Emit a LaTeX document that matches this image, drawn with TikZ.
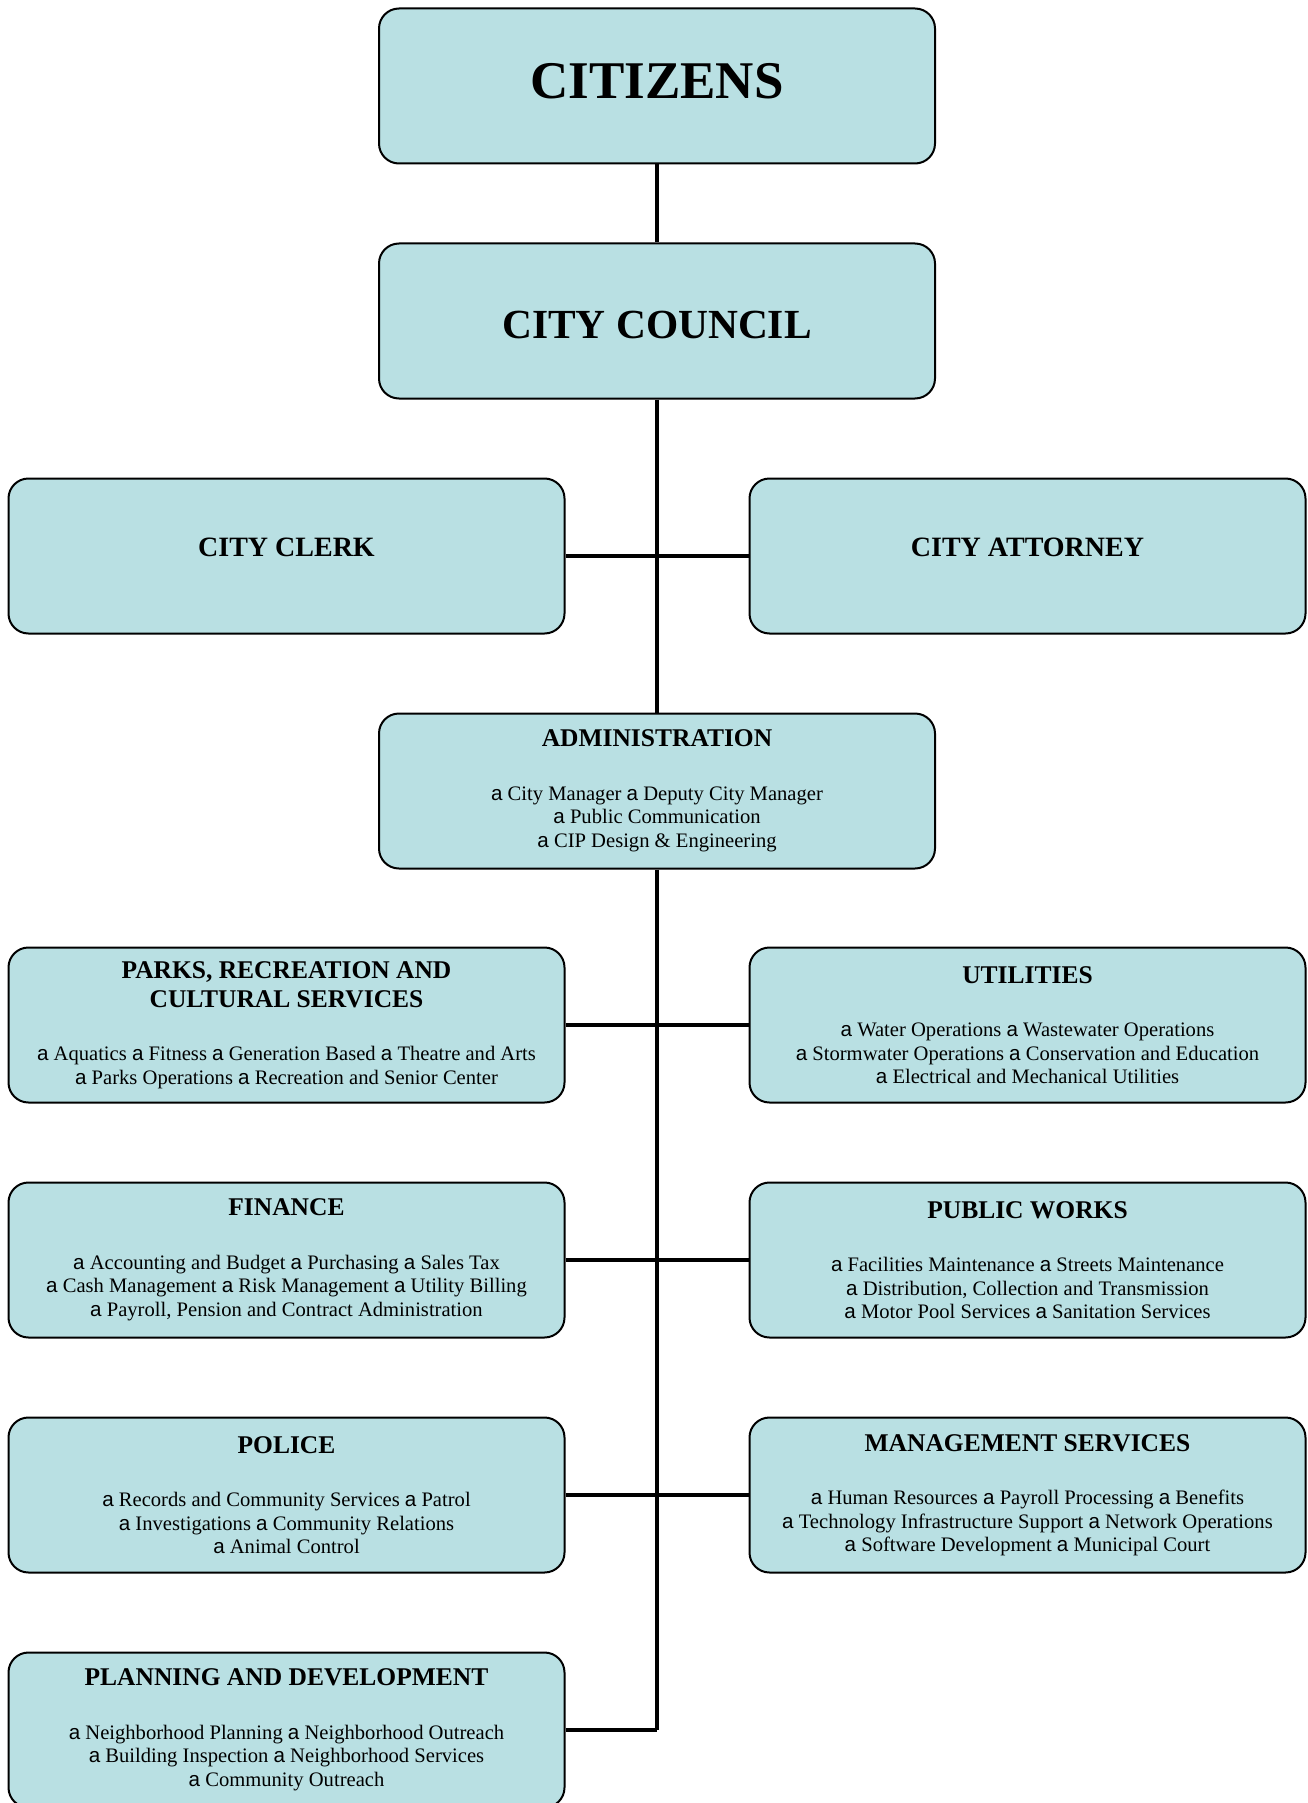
\documentclass[tikz,border=0pt]{standalone}
\usepackage{fontspec}
\setmainfont{Liberation Serif}
\newfontfamily\bltfont{Liberation Sans}
\usepackage{xcolor}
\usepackage{tikz}
\usetikzlibrary{positioning}

\definecolor{boxfill}{RGB}{185,224,227}
\newcommand{\blt}{{\bltfont a}}
\newcommand{\hd}[1]{{\fontsize{12.75}{14.5}\selectfont\bfseries #1}}

\begin{document}
\begin{tikzpicture}[x=0.5pt,y=-0.5pt,
        orgbox/.style={draw=black, line width=1pt, fill=boxfill, rounded corners=10pt,
            minimum width=278pt, minimum height=77.5pt, align=center, inner sep=2pt,
            font=\fontsize{10.3}{11.75}\selectfont},
        link/.style={line width=2.4pt}]
        \useasboundingbox (0,0) rectangle (1307,1803);

        % Top of the chart
        \node[orgbox, font=\fontsize{26.5}{30}\selectfont\bfseries, text depth=4.6pt] (citizens) at (657,86) {CITIZENS};
        \node[orgbox, font=\fontsize{20.7}{24}\selectfont\bfseries, text height=18pt] (council) at (657,321) {CITY COUNCIL};

        % Clerk and attorney
        \node[orgbox, font=\fontsize{14}{16}\selectfont\bfseries, text depth=8.5pt] (clerk) at (286.5,556) {CITY CLERK};
        \node[orgbox, font=\fontsize{14}{16}\selectfont\bfseries, text depth=8.5pt] (attorney) at (1027.5,556) {CITY ATTORNEY};

        % Administration
        \node[orgbox] (admin) at (657,791) {\hd{ADMINISTRATION}\\[15pt]
            \blt{} City Manager \blt{} Deputy City Manager\\
            \blt{} Public Communication\\
            \blt{} CIP Design \& Engineering};

        % Departments, left column
        \node[orgbox] (parks) at (286.5,1025) {\hd{PARKS, RECREATION AND}\\[2.75pt]\hd{CULTURAL SERVICES}\\[15pt]
            \blt{} Aquatics \blt{} Fitness \blt{} Generation Based \blt{} Theatre and Arts\\
            \blt{} Parks Operations \blt{} Recreation and Senior Center};
        \node[orgbox] (finance) at (286.5,1260) {\hd{FINANCE}\\[15pt]
            \blt{} Accounting and Budget \blt{} Purchasing \blt{} Sales Tax\\
            \blt{} Cash Management \blt{} Risk Management \blt{} Utility Billing\\
            \blt{} Payroll, Pension and Contract Administration};
        \node[orgbox] (police) at (286.5,1495) {\hd{POLICE}\\[15pt]
            \blt{} Records and Community Services \blt{} Patrol\\
            \blt{} Investigations \blt{} Community Relations\\
            \blt{} Animal Control};
        \node[orgbox] (planning) at (286.5,1730) {\hd{PLANNING AND DEVELOPMENT}\\[15pt]
            \blt{} Neighborhood Planning \blt{} Neighborhood Outreach\\
            \blt{} Building Inspection \blt{} Neighborhood Services\\
            \blt{} Community Outreach};

        % Departments, right column
        \node[orgbox] (utilities) at (1027.5,1025) {\hd{UTILITIES}\\[15pt]
            \blt{} Water Operations \blt{} Wastewater Operations\\
            \blt{} Stormwater Operations \blt{} Conservation and Education\\
            \blt{} Electrical and Mechanical Utilities};
        \node[orgbox] (works) at (1027.5,1260) {\hd{PUBLIC WORKS}\\[15pt]
            \blt{} Facilities Maintenance \blt{} Streets Maintenance\\
            \blt{} Distribution, Collection and Transmission\\
            \blt{} Motor Pool Services \blt{} Sanitation Services};
        \node[orgbox] (mgmt) at (1027.5,1495) {\hd{MANAGEMENT SERVICES}\\[15pt]
            \blt{} Human Resources \blt{} Payroll Processing \blt{} Benefits\\
            \blt{} Technology Infrastructure Support \blt{} Network Operations\\
            \blt{} Software Development \blt{} Municipal Court};

        % Trunk line
        \coordinate (trunkend) at (657,1730);
        \draw[link] (citizens) -- (council);
        \draw[link] (council) -- (admin);
        \draw[link] (admin) -- (trunkend);

        % Branches
        \draw[link] (clerk) -- (attorney);
        \draw[link] (parks) -- (utilities);
        \draw[link] (finance) -- (works);
        \draw[link] (police) -- (mgmt);
        \draw[link] (planning) -- (trunkend);
    \end{tikzpicture}
\end{document}
